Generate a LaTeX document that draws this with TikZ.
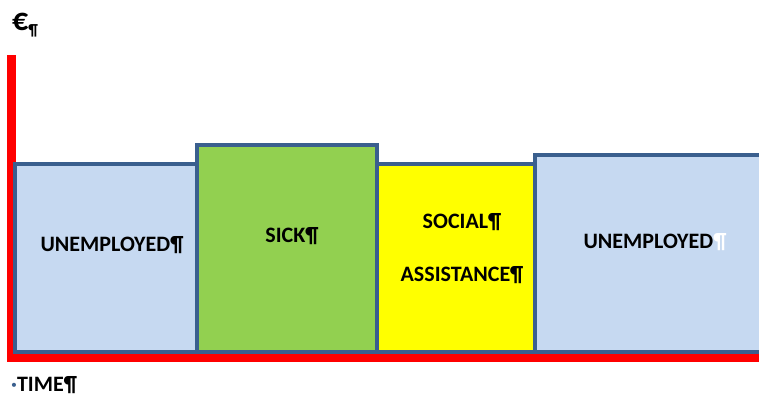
\documentclass[tikz,border=0pt]{standalone}
\usepackage{fontspec}
\setmainfont{Carlito}
\definecolor{ublue}{HTML}{C6D9F1}
\definecolor{sgreen}{HTML}{92D050}
\definecolor{syellow}{HTML}{FFFF00}
\definecolor{bline}{HTML}{3A5F8E}
\definecolor{axred}{HTML}{FF0000}
\tikzset{
  period/.style={draw=bline, line width=3.5pt, inner sep=0pt, outer sep=0pt, anchor=north west},
  lbl/.style={font=\fontsize{22}{26}\selectfont\bfseries, text=black, inner sep=0pt},
  axis/.style={draw=axred, line width=9.5pt, line join=miter}
}
\begin{document}
\begin{tikzpicture}[x=1pt,y=-1pt]
\clip (0,0) rectangle (759,396);
\fill[white] (0,0) rectangle (759,396);
% axes
\coordinate (ytop) at (11.5,55);
\coordinate (orig) at (11.5,357.5);
\coordinate (xend) at (770,357.5);
\draw[axis] (ytop) -- (orig) -- (xend);
% periods
\node[period, fill=ublue, minimum width=182pt, minimum height=188pt] (u1) at (15,164) {};
\node[period, fill=syellow, minimum width=158pt, minimum height=188pt] (sa) at (377,164) {};
\node[period, fill=ublue, minimum width=250pt, minimum height=197pt] (u2) at (535,155) {};
\node[period, fill=sgreen, minimum width=180pt, minimum height=207pt] (sk) at (197,145) {};
% labels
\node[lbl] (tu1) at (112,245) {UNEMPLOYED¶};
\node[lbl] (tsk) at (292,236) {SICK¶};
\node[lbl] (tso) at (462,222) {SOCIAL¶};
\node[lbl] (tas) at (462,275) {ASSISTANCE¶};
\node[lbl] (tu2) at (655,242) {UNEMPLOYED\textcolor{white}{¶}};
% axis labels
\node[inner sep=0pt, anchor=base west] (euro) at (12,31) {\fontsize{32}{34}\selectfont\bfseries €\fontsize{16}{18}\selectfont\raisebox{-5pt}{¶}};
\node[lbl, anchor=base west] (time) at (11,391) {{\color{bline}·}TIME¶};
\end{tikzpicture}
\end{document}
